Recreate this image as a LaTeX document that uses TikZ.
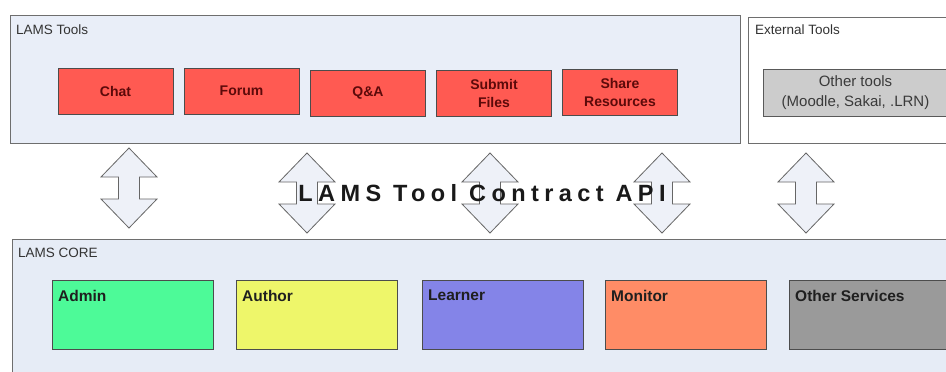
\documentclass[tikz,border=0pt]{standalone}
\usepackage{fontspec}
\setmainfont{Liberation Sans}
\newfontfamily\apifont[LetterSpace=23]{Liberation Sans}
\definecolor{toolfill}{HTML}{E9EEF8}
\definecolor{corefill}{HTML}{E6ECF6}
\definecolor{panelline}{HTML}{6E6E6E}
\definecolor{redfill}{HTML}{FF5A52}
\definecolor{redtext}{HTML}{5C0A0A}
\definecolor{grayfill}{HTML}{CCCCCC}
\definecolor{grayfilltext}{HTML}{3A3A3A}
\definecolor{adminfill}{HTML}{4DFA98}
\definecolor{authorfill}{HTML}{EEF66A}
\definecolor{learnerfill}{HTML}{8484E8}
\definecolor{monitorfill}{HTML}{FF8C66}
\definecolor{otherfill}{HTML}{9A9A9A}
\definecolor{arrowfill}{HTML}{EEF1F8}
\begin{document}
\begin{tikzpicture}[x=1pt,y=-1pt,
  panel/.style={draw=panelline, line width=1.2pt, rectangle, inner sep=0pt, anchor=north west},
  panellabel/.style={inner sep=0pt, anchor=north west, text=black!80, font=\fontsize{13.5}{16}\selectfont},
  toolbox/.style={draw=black!70, line width=0.8pt, fill=redfill, rectangle, inner sep=0pt,
    minimum width=115pt, minimum height=46pt, align=center, text=redtext,
    font=\fontsize{14}{18}\selectfont\bfseries},
  extbox/.style={draw=black!65, line width=0.8pt, fill=grayfill, rectangle, inner sep=0pt,
    minimum width=185pt, minimum height=47pt, align=center, text=grayfilltext,
    font=\fontsize{15}{20}\selectfont},
  corebox/.style={draw=black!70, line width=0.9pt, rectangle, inner sep=0pt, anchor=north west,
    minimum width=161pt, minimum height=69pt},
  corelabel/.style={inner sep=0pt, anchor=north west, text=black!88,
    font=\fontsize{15.5}{18}\selectfont\bfseries},
  arrowshape/.style={draw=black!60, line width=0.8pt, fill=arrowfill, line join=miter},
  dblarrow/.pic={\path[arrowshape] (0,0) -- (28,29) -- (10.5,29) -- (10.5,51) -- (28,51) -- (0,80)
     -- (-28,51) -- (-10.5,51) -- (-10.5,29) -- (-28,29) -- cycle;}
]
\useasboundingbox (0,0) rectangle (946,372);
\clip (0,0) rectangle (946,372);
\fill[white] (0,0) rectangle (946,372);

% top panels
\node[panel, fill=toolfill, minimum width=730pt, minimum height=128pt] (tools) at (10,15) {};
\node[panellabel] (toolslabel) at (16,25) {LAMS Tools};
\node[panel, fill=white, minimum width=210pt, minimum height=126pt] (ext) at (748,17) {};
\node[panellabel] (extlabel) at (755,25) {External Tools};

% tool boxes
\node[toolbox] (chat) at (115.5,91) {Chat};
\node[toolbox] (forum) at (241.5,91) {Forum};
\node[toolbox] (qa) at (368,93) {Q\&A};
\node[toolbox] (submit) at (494,93) {Submit\\Files};
\node[toolbox] (share) at (620,92.5) {Share\\Resources};
\node[extbox] (other) at (855.5,92.5) {Other tools\\(Moodle, Sakai, .LRN)};

% core panel
\node[panel, fill=corefill, minimum width=950pt, minimum height=150pt] (core) at (12,239) {};
\node[panellabel] (corelbl) at (18,248) {LAMS CORE};

\node[corebox, fill=adminfill] (admin) at (52,280) {};
\node[corebox, fill=authorfill] (author) at (236,280) {};
\node[corebox, fill=learnerfill] (learner) at (422,280) {};
\node[corebox, fill=monitorfill] (monitor) at (605,280) {};
\node[corebox, fill=otherfill, minimum width=170pt] (services) at (789,280) {};
\node[corelabel] (adminlbl) at ([shift={(6,10)}]admin.north west) {Admin};
\node[corelabel] (authorlbl) at ([shift={(6,10)}]author.north west) {Author};
\node[corelabel] (learnerlbl) at ([shift={(6,10)}]learner.north west) {Learner};
\node[corelabel] (monitorlbl) at ([shift={(6,10)}]monitor.north west) {Monitor};
\node[corelabel] (serviceslbl) at ([shift={(6,10)}]services.north west) {Other Services};

% double arrows
\pic at (129,148) {dblarrow};
\pic at (307,153) {dblarrow};
\pic at (490,153) {dblarrow};
\pic at (662,153) {dblarrow};
\pic at (806,153) {dblarrow};

% API text
\node[inner sep=0pt, text=black!90, font=\apifont\fontsize{23.5}{26}\selectfont\bfseries] (api) at (482,193) {LAMS Tool Contract API};
\end{tikzpicture}
\end{document}
